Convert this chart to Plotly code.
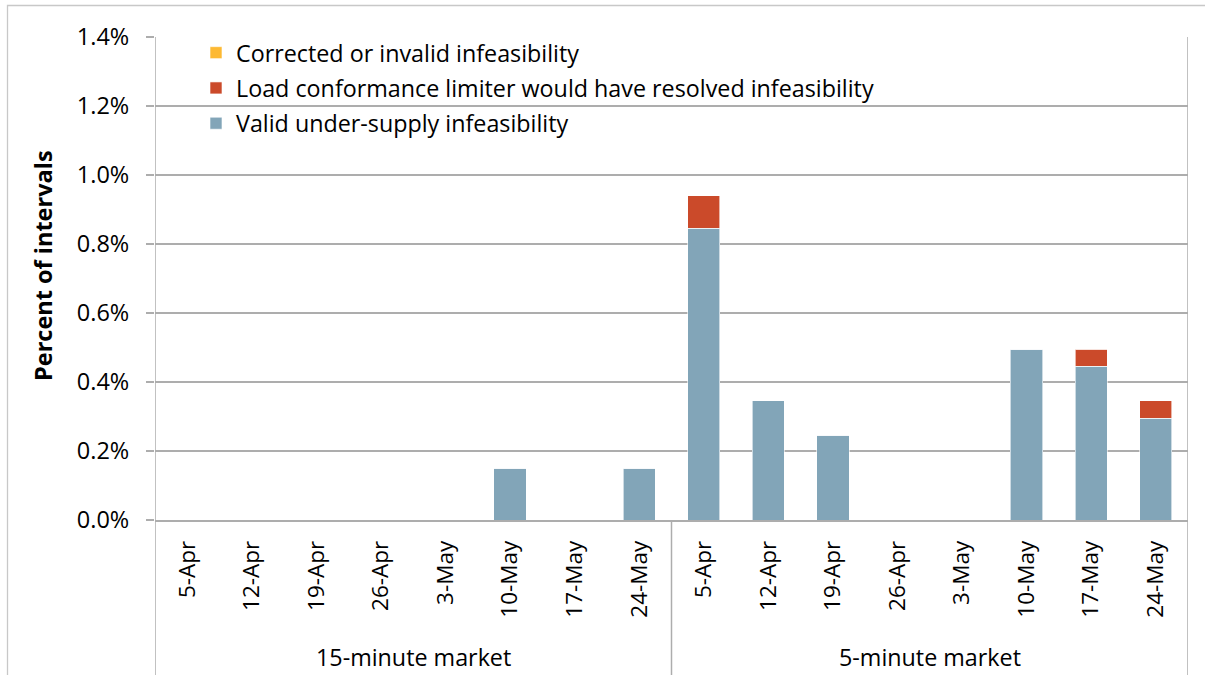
import plotly.graph_objects as go

# ---- data ----
dates = ["5-Apr", "12-Apr", "19-Apr", "26-Apr", "3-May", "10-May", "17-May", "24-May"]
groups = ["15-minute market", "5-minute market"]
valid_15 = [0, 0, 0, 0, 0, 0.0015, 0, 0.0015]
valid_5 = [0.00845, 0.00345, 0.00245, 0, 0, 0.00495, 0.00445, 0.00295]
lcl_15 = [0, 0, 0, 0, 0, 0, 0, 0]
lcl_5 = [0.00095, 0, 0, 0, 0, 0, 0.0005, 0.0005]
corr_15 = [0, 0, 0, 0, 0, 0, 0, 0]
corr_5 = [0, 0, 0, 0, 0, 0, 0, 0]
series_names = ["Valid under-supply infeasibility",
                "Load conformance limiter would have resolved infeasibility",
                "Corrected or invalid infeasibility"]
series_colors = ["#82A5B8", "#CB4A2A", "#FDB933"]
legend_ranks = [3, 2, 1]

labels = dates + dates
xpos = list(range(len(labels)))

# ---- layout geometry (pixels) ----
W, H = 1205, 675
L, R, T, B = 155, 1188, 37, 520
FONT = "Open Sans"
GRID = "#ADADAD"


def px(x):
    return (x - L) / (R - L)


def py(y):
    return (B - y) / (B - T)


fig = go.Figure()
for name, color, rank, vals in zip(series_names, series_colors, legend_ranks,
                                   [valid_15 + valid_5, lcl_15 + lcl_5, corr_15 + corr_5]):
    fig.add_trace(go.Bar(
        x=xpos, y=vals, name=name, legendgroup=name, legendrank=rank,
        marker=dict(color=color, line=dict(color="rgba(255,255,255,0.6)", width=1)),
    ))

shapes = []
# outer frame
shapes.append(dict(type="rect", xref="paper", yref="paper",
                   x0=px(7.5), x1=px(1215), y0=py(5.5), y1=py(690),
                   line=dict(color="#C8C8C8", width=1.3), fillcolor="rgba(0,0,0,0)", layer="above"))
# left axis, right border and group dividers
n = len(dates)
for k in range(len(groups) + 1):
    xv = -0.5 + k * n
    top = 1 if k in (0, len(groups)) else 0
    shapes.append(dict(type="line", xref="x", yref="paper", x0=xv, x1=xv,
                       y0=top, y1=py(690), line=dict(color=GRID, width=1.5)))

annotations = []
for gi, g in enumerate(groups):
    annotations.append(dict(x=gi * n + (n - 1) / 2, xref="x", y=py(657), yref="paper",
                            text=g, showarrow=False, font=dict(family=FONT, size=23.3, color="#000"),
                            xanchor="center", yanchor="middle"))
annotations.append(dict(x=px(43), xref="paper", y=py(266), yref="paper",
                        text="<b>Percent of intervals</b>", textangle=-90, showarrow=False,
                        font=dict(family=FONT, size=23.5, color="#000"),
                        xanchor="center", yanchor="middle"))

fig.update_layout(
    width=W, height=H,
    margin=dict(l=L, r=W - R, t=T, b=H - B),
    paper_bgcolor="white", plot_bgcolor="white",
    barmode="stack", bargap=0.5,
    font=dict(family=FONT, size=23, color="#000"),
    showlegend=True,
    legend=dict(x=px(196), y=py(31), xanchor="left", yanchor="top",
                traceorder="grouped", tracegroupgap=2,
                font=dict(family=FONT, size=23.3, color="#000"),
                bgcolor="rgba(0,0,0,0)"),
    shapes=shapes,
    annotations=annotations,
    xaxis=dict(range=[-0.5, len(labels) - 0.5], tickmode="array", tickvals=xpos,
               ticktext=labels, tickangle=-90, ticks="", showgrid=False,
               showline=True, linecolor=GRID, linewidth=1.5, zeroline=False,
               tickfont=dict(family=FONT, size=22.5), ticklabelstandoff=10),
    yaxis=dict(range=[0, 0.014], dtick=0.002, tickformat=".1%", ticks="outside",
               ticklen=8, tickcolor=GRID, tickwidth=1.5, showgrid=True, gridcolor=GRID,
               gridwidth=1.5, zeroline=False, showline=False,
               tickfont=dict(family=FONT, size=23.5), ticklabelstandoff=12),
)

fig.write_html("out.html", config={"displayModeBar": False},
               post_script="document.body.style.margin='0px';")
